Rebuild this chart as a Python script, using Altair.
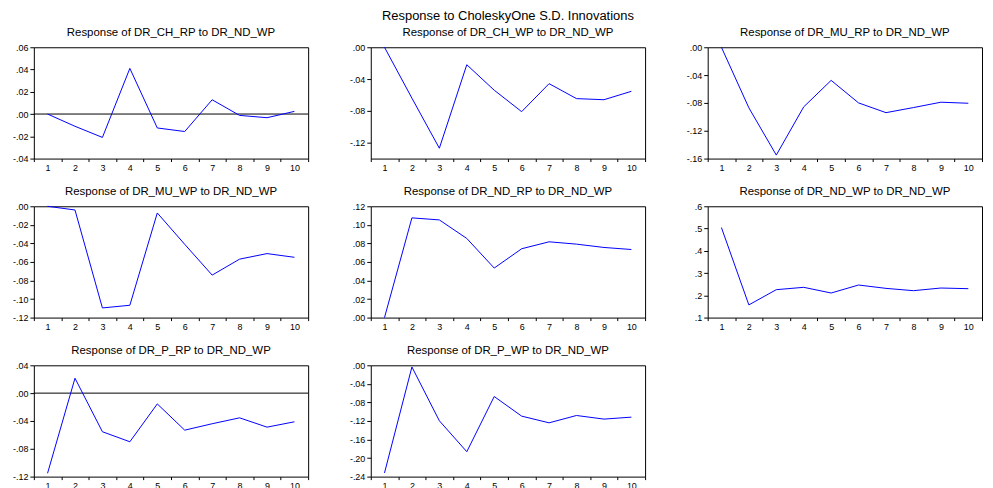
import altair as alt
import pandas as pd

periods = list(range(1, 11))

ch_rp = [0.000, -0.011, -0.021, 0.041, -0.0125, -0.0157, 0.0128, -0.0012, -0.0033, 0.0024]
ch_wp = [0.000, -0.064, -0.127, -0.022, -0.054, -0.081, -0.0458, -0.0646, -0.066, -0.0554]
mu_rp = [0.000, -0.087, -0.155, -0.0857, -0.0476, -0.080, -0.094, -0.0867, -0.079, -0.0805]
mu_wp = [0.000, -0.004, -0.1096, -0.1067, -0.0072, -0.041, -0.0742, -0.057, -0.051, -0.055]
nd_rp = [0.000, 0.1075, 0.1053, 0.0853, 0.0534, 0.0742, 0.0817, 0.0792, 0.0756, 0.0734]
nd_wp = [0.5045, 0.157, 0.2254, 0.236, 0.2104, 0.2463, 0.2313, 0.2209, 0.2328, 0.2299]
p_rp = [-0.1152, 0.0214, -0.0555, -0.0699, -0.0155, -0.0532, -0.044, -0.0355, -0.0489, -0.0412]
p_wp = [-0.2321, -0.0036, -0.1196, -0.1863, -0.0673, -0.1096, -0.124, -0.1082, -0.116, -0.1118]

main_title = "Response to CholeskyOne S.D. Innovations"
titles = [
    "Response of DR_CH_RP to DR_ND_WP",
    "Response of DR_CH_WP to DR_ND_WP",
    "Response of DR_MU_RP to DR_ND_WP",
    "Response of DR_MU_WP to DR_ND_WP",
    "Response of DR_ND_RP to DR_ND_WP",
    "Response of DR_ND_WP to DR_ND_WP",
    "Response of DR_P_RP to DR_ND_WP",
    "Response of DR_P_WP to DR_ND_WP",
]
series = [ch_rp, ch_wp, mu_rp, mu_wp, nd_rp, nd_wp, p_rp, p_wp]
y_domains = [[-0.04, 0.06], [-0.14, 0.0], [-0.16, 0.0], [-0.12, 0.0],
             [0.0, 0.12], [0.1, 0.6], [-0.12, 0.04], [-0.24, 0.0]]
y_ticks = [
    [-0.04, -0.02, 0.0, 0.02, 0.04, 0.06],
    [-0.12, -0.08, -0.04, 0.0],
    [-0.16, -0.12, -0.08, -0.04, 0.0],
    [-0.12, -0.10, -0.08, -0.06, -0.04, -0.02, 0.0],
    [0.0, 0.02, 0.04, 0.06, 0.08, 0.10, 0.12],
    [0.1, 0.2, 0.3, 0.4, 0.5, 0.6],
    [-0.12, -0.08, -0.04, 0.0, 0.04],
    [-0.24, -0.20, -0.16, -0.12, -0.08, -0.04, 0.0],
]
y_formats = ['.2f', '.2f', '.2f', '.2f', '.2f', '.1f', '.2f', '.2f']
zero_lines = [True, False, False, False, False, False, True, False]

FONT = "Liberation Sans"
W, H = 276, 112


def panel(i):
    df = pd.DataFrame({"period": periods, "value": series[i]})
    fmt = y_formats[i]
    label_expr = ("replace(replace(format(datum.value, '%s'), '0.', '.'), '\u2212', '-')" % fmt)
    x = alt.X(
        "period:O",
        bandPosition=0.5,
        scale=alt.Scale(type="band", paddingInner=0, paddingOuter=0),
        axis=alt.Axis(title=None, labelAngle=0, tickBand="extent", tickSize=3,
                      domain=False, grid=False, labelPadding=2, labelOverlap=False),
    )
    y = alt.Y(
        "value:Q",
        scale=alt.Scale(domain=y_domains[i], nice=False, zero=False),
        axis=alt.Axis(title=None, values=y_ticks[i], labelExpr=label_expr,
                      tickSize=4, domain=False, grid=False, labelPadding=2,
                      labelOverlap=False, labelFlush=False),
    )
    line = alt.Chart(df).mark_line(color="#0000FF", strokeWidth=1).encode(x=x, y=y)
    layers = []
    if zero_lines[i]:
        zdf = pd.DataFrame({"value": [0.0]})
        layers.append(alt.Chart(zdf).mark_rule(color="black", strokeWidth=1).encode(y=y))
    layers.append(line)
    if i == 1:
        t = alt.TitleParams(text=main_title, subtitle=titles[i], fontSize=13,
                            subtitleFontSize=11.5, subtitlePadding=4)
    else:
        t = alt.TitleParams(text=titles[i], fontSize=11.5)
    return alt.layer(*layers).properties(width=W, height=H, title=t)


p = [panel(i) for i in range(8)]

chart = alt.concat(*p, columns=3, spacing={"row": 48, "column": 63}, bounds="flush").properties(
    padding={"left": 3, "top": 0, "right": 2, "bottom": 2}
).configure_view(
    stroke="black", strokeWidth=1
).configure_axis(
    labelFont=FONT, labelFontSize=9, labelColor="black", tickColor="black"
).configure_title(
    font=FONT, subtitleFont=FONT, color="black", subtitleColor="black",
    anchor="middle", fontWeight="normal", offset=5
)

chart.save("out.html", embed_options={"renderer": "svg", "actions": False})
